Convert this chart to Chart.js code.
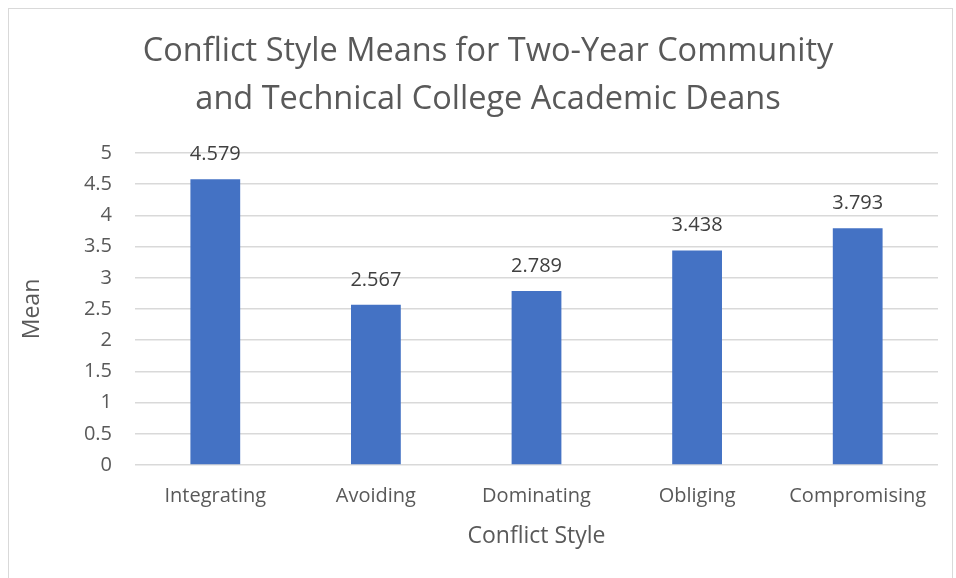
<!DOCTYPE html>
<html>
<head>
<meta charset="utf-8">
<script src="https://cdn.jsdelivr.net/npm/chart.js@4.4.1/dist/chart.umd.min.js"></script>
<style>
    html, body {
        margin: 0;
        padding: 0;
        background: #ffffff;
        overflow: hidden;
    }
    #frame {
        position: absolute;
        left: 8px;
        top: 8px;
        width: 943px;
        height: 600px;
        border: 1px solid #d9d9d9;
    }
    #wrap {
        position: absolute;
        left: 0;
        top: 0;
        width: 956px;
        height: 578px;
    }
</style>
</head>
<body>
<div id="frame"></div>
<div id="wrap"><canvas id="chart"></canvas></div>
<script>
const categories = ['Integrating', 'Avoiding', 'Dominating', 'Obliging', 'Compromising'];
const means = [4.579, 2.567, 2.789, 3.438, 3.793];
const titleLines = ['Conflict Style Means for Two-Year Community', 'and Technical College Academic Deans'];

const FONT = '"Open Sans", "Noto Sans", sans-serif';
const TEXT_COLOR = '#595959';

// the chart title sits a little right of the plot centre, so draw it here
const chartTitle = {
    id: 'chartTitle',
    afterDraw(chart) {
        const ctx = chart.ctx;
        ctx.save();
        ctx.font = `32.5px ${FONT}`;
        ctx.fillStyle = TEXT_COLOR;
        ctx.textAlign = 'center';
        ctx.textBaseline = 'middle';
        titleLines.forEach((line, i) => {
            ctx.fillText(line, 488, 52 + i * 48);
        });
        ctx.restore();
    },
};

const valueLabels = {
    id: 'valueLabels',
    afterDatasetsDraw(chart) {
        const ctx = chart.ctx;
        const meta = chart.getDatasetMeta(0);
        ctx.save();
        ctx.font = `20px ${FONT}`;
        ctx.fillStyle = '#404040';
        ctx.textAlign = 'center';
        ctx.textBaseline = 'middle';
        meta.data.forEach((bar, i) => {
            ctx.fillText(means[i].toFixed(3), bar.x, bar.y - 25);
        });
        ctx.restore();
    },
};

const ctx = document.getElementById('chart').getContext('2d');
new Chart(ctx, {
    type: 'bar',
    data: {
        labels: categories,
        datasets: [{
            label: 'Mean',
            data: means,
            backgroundColor: '#4472c4',
            borderWidth: 0,
            barPercentage: 0.31,
            categoryPercentage: 1,
        }],
    },
    options: {
        responsive: true,
        maintainAspectRatio: false,
        animation: false,
        layout: {
            padding: { left: 0, right: 18, top: 153, bottom: 0 },
        },
        plugins: {
            legend: { display: false },
            tooltip: { enabled: false },
            title: { display: false },
        },
        scales: {
            x: {
                afterFit(scale) {
                    scale.height = 113;
                },
                grid: { display: false, drawTicks: false },
                border: { display: false },
                ticks: {
                    color: TEXT_COLOR,
                    font: { family: FONT, size: 20 },
                    padding: 19,
                },
                title: {
                    display: true,
                    text: 'Conflict Style',
                    color: TEXT_COLOR,
                    font: { family: FONT, size: 23 },
                    padding: { top: 0, bottom: 28 },
                },
            },
            y: {
                afterFit(scale) {
                    scale.width = 135;
                },
                min: 0,
                max: 5,
                ticks: {
                    stepSize: 0.5,
                    color: TEXT_COLOR,
                    font: { family: FONT, size: 20 },
                    padding: 23,
                    callback: (value) => String(value),
                },
                grid: { color: '#d9d9d9', lineWidth: 1.5, drawTicks: false },
                border: { display: false },
                title: {
                    display: true,
                    text: 'Mean',
                    color: TEXT_COLOR,
                    font: { family: FONT, size: 23 },
                    padding: { top: 19, bottom: 0 },
                },
            },
        },
    },
    plugins: [valueLabels, chartTitle],
});
</script>
</body>
</html>
